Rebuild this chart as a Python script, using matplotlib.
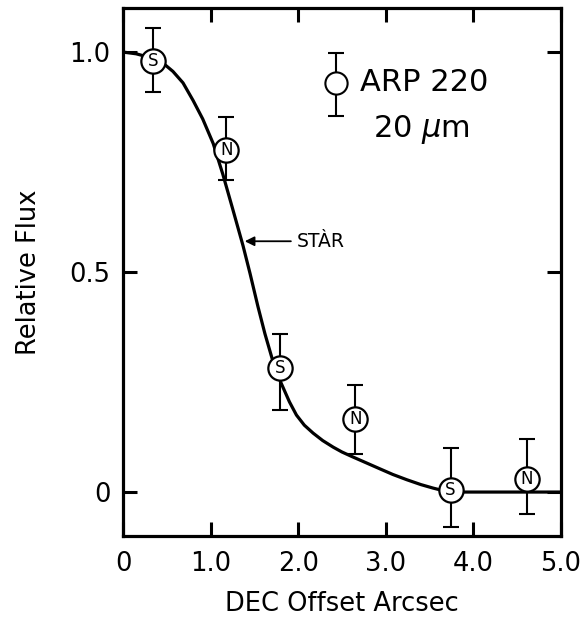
import numpy as np
import matplotlib
matplotlib.use("Agg")
import matplotlib.pyplot as plt

# fitted curve
curve_x = [0.0, 0.15, 0.30, 0.40, 0.48, 0.57, 0.685, 0.80, 0.91, 1.03, 1.14,
           1.25, 1.37, 1.45, 1.54, 1.62, 1.70, 1.80, 1.90, 1.98, 2.07, 2.17,
           2.28, 2.40, 2.50, 2.61, 2.77, 2.93, 3.08, 3.24, 3.40, 3.54, 3.64,
           3.74, 4.20, 5.0]
curve_y = [1.0, 0.996, 0.988, 0.98, 0.971, 0.956, 0.93, 0.89, 0.848, 0.792,
           0.722, 0.645, 0.56, 0.497, 0.422, 0.36, 0.305, 0.25, 0.205, 0.175,
           0.152, 0.134, 0.117, 0.102, 0.091, 0.081, 0.067, 0.053, 0.040,
           0.028, 0.017, 0.009, 0.004, 0.0, 0.0, 0.0]

# measurements (S = south, N = north)
pt_x = [0.34, 1.18, 1.79, 2.65, 3.74, 4.61]
pt_y = [0.98, 0.777, 0.282, 0.166, 0.005, 0.03]
err_hi = [1.055, 0.852, 0.359, 0.243, 0.10, 0.12]
err_lo = [0.91, 0.709, 0.186, 0.086, -0.08, -0.05]
pt_lab = ['S', 'N', 'S', 'N', 'S', 'N']

xticks = [0, 1, 2, 3, 4, 5]
xticklabels = ['0', '1.0', '2.0', '3.0', '4.0', '5.0']
yticks = [0, 0.5, 1.0]
yticklabels = ['0', '0.5', '1.0']

fig = plt.figure(figsize=(5.86, 6.19), dpi=100)
ax = fig.add_axes([0.2099, 0.134, 0.7474, 0.853])

ax.plot(curve_x, curve_y, color='k', lw=2.3, zorder=2,
        solid_joinstyle='round')

yerr = [np.array(pt_y) - np.array(err_lo), np.array(err_hi) - np.array(pt_y)]
ax.errorbar(pt_x, pt_y, yerr=yerr, fmt='none', ecolor='k', elinewidth=1.5,
            capsize=5.5, capthick=1.5, zorder=3)
ax.plot(pt_x, pt_y, 'o', ms=17.5, mfc='white', mec='k', mew=1.6, zorder=4)
for x, y, s in zip(pt_x, pt_y, pt_lab):
    ax.text(x, y, s, ha='center', va='center', fontsize=12, zorder=5)

# key in upper right
ax.errorbar([2.43], [0.93], yerr=[[0.075], [0.068]], fmt='o', ms=16,
            mfc='white', mec='k', mew=1.5, ecolor='k', elinewidth=1.5,
            capsize=5.5, capthick=1.5, zorder=4)
ax.text(2.71, 0.93, 'ARP 220', fontsize=22, ha='left', va='center')
ax.text(2.85, 0.825, '20 $\\mu$m', fontsize=22, ha='left', va='center')

# star profile marker
ax.annotate('STÀR', xy=(1.39, 0.57), xytext=(1.98, 0.57), fontsize=13.5,
            ha='left', va='center',
            arrowprops=dict(arrowstyle='-|>', color='k', lw=1.3,
                            mutation_scale=14, shrinkA=2, shrinkB=0))

ax.set_xlim(0, 5.0)
ax.set_ylim(-0.1, 1.1)
ax.set_xticks(xticks)
ax.set_xticklabels(xticklabels)
ax.set_yticks(yticks)
ax.set_yticklabels(yticklabels)
ax.tick_params(direction='in', length=10, width=2.2, labelsize=18.5,
               top=True, right=True)
ax.tick_params(axis='x', pad=11)
ax.tick_params(axis='y', pad=9)
for sp in ax.spines.values():
    sp.set_linewidth(2.3)

ax.set_xlabel('DEC Offset Arcsec', fontsize=18.5, labelpad=10)
ax.set_ylabel('Relative Flux', fontsize=18.5, labelpad=20)

fig.savefig('out.png', dpi=100)
